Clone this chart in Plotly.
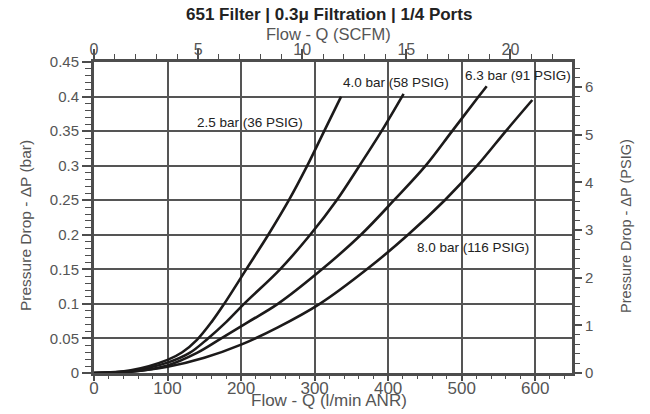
import plotly.graph_objects as go

# ---- data ----
flow_25 = [0, 50, 100, 120, 140, 160, 177, 207, 237, 265, 290, 313, 336]
dp_25 = [0, 0.004, 0.019, 0.030, 0.048, 0.074, 0.10, 0.15, 0.20, 0.25, 0.30, 0.35, 0.40]

flow_40 = [0, 50, 100, 130, 155, 180, 204, 253, 294, 330, 361, 391, 421]
dp_40 = [0, 0.003, 0.015, 0.029, 0.05, 0.074, 0.10, 0.15, 0.20, 0.25, 0.30, 0.35, 0.404]

flow_63 = [0, 50, 100, 140, 173, 210, 250, 310, 363, 408, 451, 487, 523, 534]
dp_63 = [0, 0.002, 0.011, 0.029, 0.05, 0.074, 0.10, 0.15, 0.20, 0.25, 0.30, 0.35, 0.40, 0.415]

flow_80 = [0, 50, 100, 150, 200, 250, 307, 371, 427, 477, 521, 560, 596]
dp_80 = [0, 0.002, 0.009, 0.022, 0.041, 0.066, 0.10, 0.15, 0.20, 0.25, 0.30, 0.35, 0.395]

series_labels = ["2.5 bar (36 PSIG)", "4.0 bar (58 PSIG)", "6.3 bar (91 PSIG)", "8.0 bar (116 PSIG)"]
label_x = [212, 410, 577, 515]
label_y = [0.363, 0.42, 0.43, 0.181]

title = "651 Filter | 0.3\u03bc Filtration | 1/4 Ports"
x_title_bottom = "Flow - Q (l/min ANR)"
x_title_top = "Flow - Q (SCFM)"
y_title_left = "Pressure Drop - \u0394P (bar)"
y_title_right = "Pressure Drop - \u0394P (PSIG)"

X_MAX = 650
Y_MAX = 0.45
LPM_PER_SCFM = 28.3168
PSI_PER_BAR = 14.5038

FONT = "Liberation Sans, Arial, Helvetica, sans-serif"
AX = "#4d4d4d"
GRID = "#555555"
TXT = "#555555"
CURVE = "#1c1a1a"

fig = go.Figure()
for xs, ys in [(flow_25, dp_25), (flow_40, dp_40), (flow_63, dp_63), (flow_80, dp_80)]:
    fig.add_trace(go.Scatter(x=xs, y=ys, mode="lines",
                             line=dict(color=CURVE, width=2.6, shape="spline", smoothing=1.0),
                             hoverinfo="skip", showlegend=False))

# invisible trace to activate the secondary axes
fig.add_trace(go.Scatter(x=[0], y=[0], xaxis="x2", yaxis="y2", mode="markers",
                         marker=dict(opacity=0), showlegend=False, hoverinfo="skip"))

fig.update_layout(
    width=650, height=414, autosize=False,
    margin=dict(l=94, r=78, t=62, b=41),
    paper_bgcolor="white", plot_bgcolor="white",
    font=dict(family=FONT, color=TXT),
    xaxis=dict(range=[0, X_MAX], dtick=100, tick0=0,
               showline=True, linecolor=AX, linewidth=3,
               showgrid=True, gridcolor=GRID, gridwidth=1.6,
               zeroline=False,
               ticks="outside", ticklen=5, tickwidth=1.5, tickcolor=AX,
               ticklabelstandoff=-7,
               tickfont=dict(size=17, color=TXT),
               minor=dict(dtick=20, ticks="outside", ticklen=3, tickwidth=1.2, tickcolor=AX, showgrid=False)),
    xaxis2=dict(range=[0, X_MAX / LPM_PER_SCFM], dtick=5, tick0=0, overlaying="x", side="top",
                showline=True, linecolor=AX, linewidth=3, showgrid=False, zeroline=False,
                ticks="outside", ticklen=10, tickwidth=1.5, tickcolor=AX,
                ticklabelstandoff=-12,
                tickfont=dict(size=16, color=TXT),
                minor=dict(dtick=1, ticks="outside", ticklen=5, tickwidth=1.2, tickcolor=AX)),
    yaxis=dict(range=[0, Y_MAX], dtick=0.05, tick0=0,
               showline=True, linecolor=AX, linewidth=3,
               showgrid=True, gridcolor=GRID, gridwidth=1.6, zeroline=False,
               ticks="outside", ticklen=9, tickwidth=1.5, tickcolor=AX,
               tickfont=dict(size=15, color=TXT),
               minor=dict(dtick=0.01, ticks="outside", ticklen=6, tickwidth=1.2, tickcolor=AX, showgrid=False)),
    yaxis2=dict(range=[0, Y_MAX * PSI_PER_BAR], dtick=1, tick0=0, overlaying="y", side="right",
                showline=True, linecolor=AX, linewidth=3, showgrid=False, zeroline=False,
                ticks="outside", ticklen=7, tickwidth=1.5, tickcolor=AX,
                tickfont=dict(size=15, color=TXT),
                minor=dict(dtick=0.2, ticks="outside", ticklen=5, tickwidth=1.2, tickcolor=AX)),
)

ann = []
for t, lx, ly in zip(series_labels, label_x, label_y):
    ann.append(dict(text=t, x=lx, y=ly, xref="x", yref="y", showarrow=False,
                    font=dict(size=13.5, color="#222222", family=FONT)))

ann += [
    dict(text="<b>" + title + "</b>", x=0.4916, y=(373 - 15) / 311, xref="paper", yref="paper",
         showarrow=False, font=dict(size=17, color="#222222", family=FONT), yanchor="middle"),
    dict(text=x_title_top, x=0.4916, y=(373 - 34) / 311, xref="paper", yref="paper",
         showarrow=False, font=dict(size=16.5, color=TXT, family=FONT), yanchor="middle"),
    dict(text=x_title_bottom, x=0.4916, y=(373 - 400) / 311, xref="paper", yref="paper",
         showarrow=False, font=dict(size=17, color=TXT, family=FONT), yanchor="middle"),
    dict(text=y_title_left, x=(25 - 94) / 478, y=(373 - 226) / 311, xref="paper", yref="paper",
         showarrow=False, textangle=-90, font=dict(size=15.5, color=TXT, family=FONT),
         xanchor="center", yanchor="middle"),
    dict(text=y_title_right, x=(626 - 94) / 478, y=(373 - 226) / 311, xref="paper", yref="paper",
         showarrow=False, textangle=-90, font=dict(size=14.5, color=TXT, family=FONT),
         xanchor="center", yanchor="middle"),
]
fig.update_layout(annotations=ann)

fig.write_html("out.html", config={"displayModeBar": False},
               post_script="document.body.style.margin='0';")
